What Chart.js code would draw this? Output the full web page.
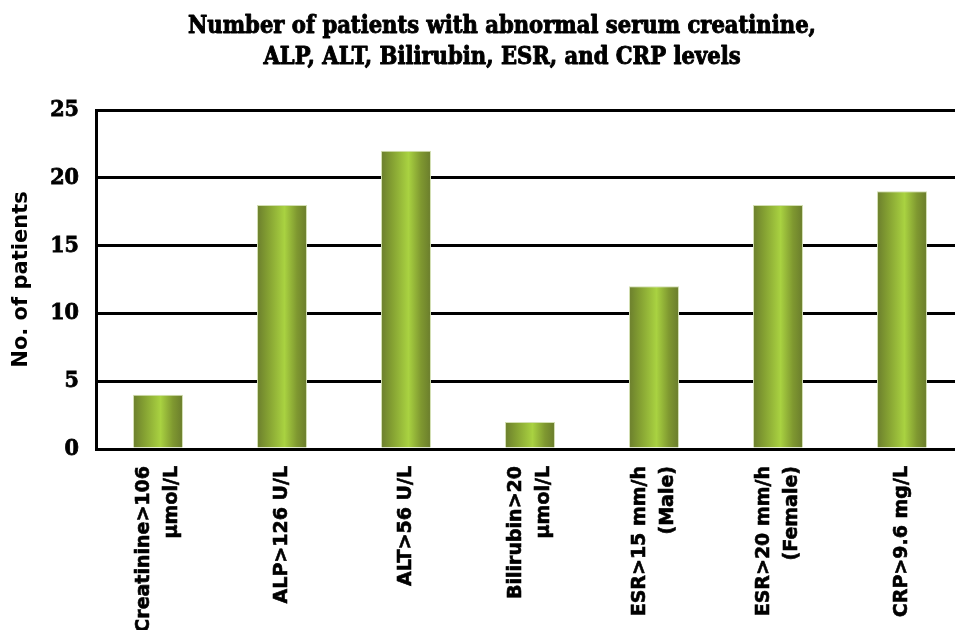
<!DOCTYPE html>
<html>
<head>
<meta charset="utf-8">
<script src="https://cdn.jsdelivr.net/npm/chart.js@4/dist/chart.umd.min.js"></script>
<style>
  html, body { margin: 0; padding: 0; background: #fff; overflow: hidden; }
  #wrap { width: 970px; height: 630px; }
</style>
</head>
<body>
<div id="wrap"><canvas id="c" width="970" height="630"></canvas></div>
<script>
// Categories (multi-line axis labels) and patient counts
const categories = [
  ['Creatinine>106', 'µmol/L'],
  'ALP>126 U/L',
  'ALT>56 U/L',
  ['Bilirubin>20', 'µmol/L'],
  ['ESR>15 mm/h', '(Male)'],
  ['ESR>20 mm/h', '(Female)'],
  'CRP>9.6 mg/L'
];
const patientCounts = [4, 18, 22, 2, 12, 18, 19];
const yTicks = [0, 5, 10, 15, 20, 25];
const titleLines = [
  'Number of patients with abnormal serum creatinine,',
  'ALP, ALT, Bilirubin, ESR, and CRP levels'
];
const yAxisTitle = 'No. of patients';

const BAR_PCT = 0.403;

// Horizontal olive gradient across each bar
function barGradient(ctx) {
  const chart = ctx.chart;
  const xs = chart.scales && chart.scales.x;
  if (!xs || ctx.dataIndex === undefined) return '#8aa838';
  const center = xs.getPixelForValue(ctx.dataIndex);
  const half = (xs.width / categories.length) * BAR_PCT / 2;
  if (!isFinite(center) || !isFinite(half) || half <= 0) return '#8aa838';
  const g = chart.ctx.createLinearGradient(center - half, 0, center + half, 0);
  g.addColorStop(0, '#6b7e2d');
  g.addColorStop(0.22, '#84a032');
  g.addColorStop(0.55, '#a9d241');
  g.addColorStop(0.8, '#7f9830');
  g.addColorStop(1, '#6a7c2c');
  return g;
}

// Two-line chart heading, drawn heavy
const headingPlugin = {
  id: 'heading',
  afterDraw(chart) {
    const c = chart.ctx;
    c.save();
    c.fillStyle = '#000';
    c.strokeStyle = '#000';
    c.lineWidth = 0.9;
    c.lineJoin = 'round';
    c.textAlign = 'center';
    c.textBaseline = 'middle';
    c.font = "bold 23.5px 'DejaVu Serif Condensed', 'DejaVu Serif', serif";
    [[titleLines[0], 27], [titleLines[1], 58]].forEach(([t, y]) => {
      c.fillText(t, 502, y);
      c.strokeText(t, 502, y);
    });
    c.restore();
  }
};

// Center multi-line rotated category labels on their tick
const centerLabelsPlugin = {
  id: 'centerLabels',
  beforeDraw(chart) {
    const sc = chart.scales.x;
    const items = sc.getLabelItems();
    items.forEach(it => {
      if (it._centered) return;
      const n = Array.isArray(it.label) ? it.label.length : 1;
      const lh = it.font.lineHeight;
      it.options.translation[0] -= (n - 1) * lh / 2;
      it._centered = true;
    });
  }
};

new Chart(document.getElementById('c'), {
  type: 'bar',
  data: {
    labels: categories,
    datasets: [{
      data: patientCounts,
      backgroundColor: barGradient,
      borderColor: '#d3dfb2',
      borderWidth: 1,
      barPercentage: BAR_PCT,
      categoryPercentage: 1
    }]
  },
  options: {
    responsive: false,
    animation: false,
    devicePixelRatio: 1,
    layout: { padding: { top: 110, right: 6, left: 0, bottom: 0 } },
    plugins: {
      legend: { display: false },
      title: { display: false },
      tooltip: { enabled: false }
    },
    scales: {
      x: {
        grid: { display: false, drawTicks: false },
        border: { display: true, color: '#000', width: 3 },
        ticks: {
          minRotation: 90,
          maxRotation: 90,
          autoSkip: false,
          padding: 17,
          color: '#000',
          textStrokeColor: '#000',
          textStrokeWidth: 0.6,
          font: { family: "'DejaVu Sans', sans-serif", weight: 'bold', size: 19, lineHeight: 1.5 }
        },
        afterFit(scale) {
          scale.height = 181;
          scale.paddingLeft = 0;
          scale.paddingRight = 0;
        }
      },
      y: {
        min: 0,
        max: 25,
        afterBuildTicks(scale) {
          scale.ticks = yTicks.map(v => ({ value: v }));
        },
        grid: { color: '#000', lineWidth: 3, drawTicks: false },
        border: { display: true, color: '#000', width: 3 },
        ticks: {
          padding: 17,
          color: '#000',
          textStrokeColor: '#000',
          textStrokeWidth: 0.8,
          font: { family: "'DejaVu Serif Condensed', 'DejaVu Serif', serif", weight: 'bold', size: 23 }
        },
        title: {
          display: true,
          text: yAxisTitle,
          color: '#000',
          padding: { top: 9, bottom: 0 },
          font: { family: "'DejaVu Sans', sans-serif", weight: 'bold', size: 21 }
        },
        afterFit(scale) {
          scale.width = 96;
        }
      }
    }
  },
  plugins: [headingPlugin, centerLabelsPlugin]
});
</script>
</body>
</html>
